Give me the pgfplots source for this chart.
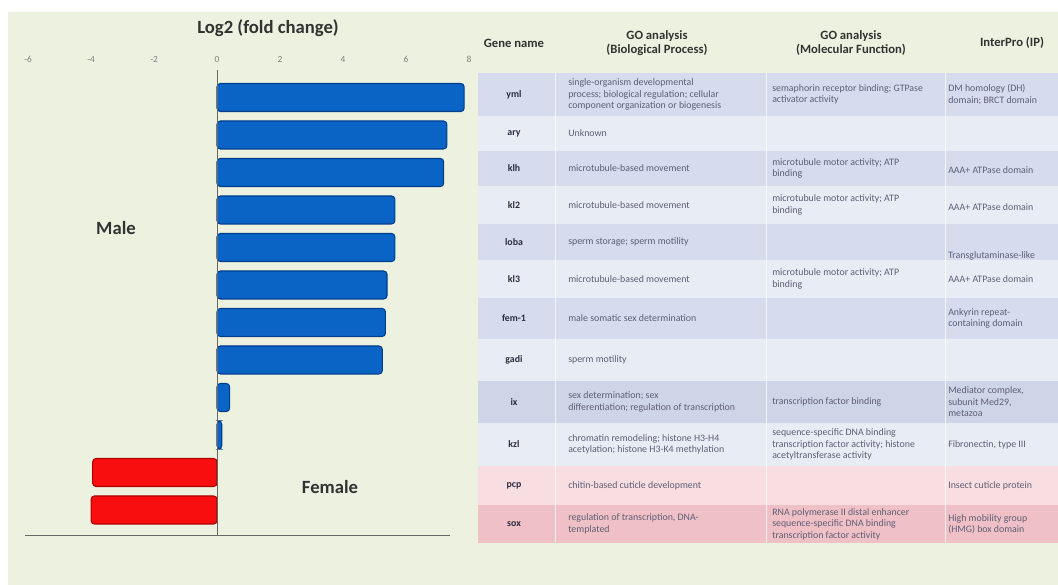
\documentclass[border=0pt]{standalone}
\usepackage{fontspec}
\setmainfont{Carlito}
\usepackage{pgfplots}
\pgfplotsset{compat=1.18}
\definecolor{bg}{RGB}{237,242,224}
\definecolor{barblue}{RGB}{10,100,198}
\definecolor{barblueedge}{RGB}{0,62,140}
\definecolor{barred}{RGB}{248,14,14}
\definecolor{barrededge}{RGB}{175,0,0}
\definecolor{rowA}{RGB}{214,219,237}
\definecolor{rowB}{RGB}{232,236,245}
\definecolor{rowC}{RGB}{206,213,231}
\definecolor{rowP}{RGB}{248,221,225}
\definecolor{rowQ}{RGB}{240,192,199}
\definecolor{txt}{RGB}{95,95,118}
\definecolor{gname}{RGB}{45,45,65}
\definecolor{hdr}{RGB}{50,50,50}
\begin{document}
\begin{tikzpicture}
\begin{scope}[x=0.75pt,y=-0.75pt]
\useasboundingbox (0,0) rectangle (1058,585);
\fill[white] (0,0) rectangle (1058,585);
\fill[bg] (8,12) rectangle (1058,585);
% table rows
\foreach \a/\b/\c in {73/116/rowA,116/151/rowB,151/186/rowA,186/224/rowB,224/260/rowA,260/298/rowB,298/339/rowA,339/381/rowB,381/423/rowC,423/466/rowB,466/505/rowP,505/543/rowQ}
  \fill[\c] (478,\a) rectangle (1058,\b);
\foreach \xx in {555,766,945}
  \draw[white,line width=0.6pt,opacity=0.7] (\xx,73) -- (\xx,543);
% headers
\begin{scope}[every node/.style={font=\fontsize{9.5}{11}\selectfont\bfseries, text=hdr, align=center}]
\node at (514,43) {Gene name};
\node at (657,43) {GO analysis\\(Biological Process)};
\node at (851,43) {GO analysis\\(Molecular Function)};
\node at (1012,43) {InterPro (IP)};
\end{scope}
% gene names
\begin{scope}[every node/.style={font=\fontsize{7.4}{8.6}\selectfont\bfseries, text=gname}]
\node at (514,94.5) {yml};
\node at (514,133.5) {ary};
\node at (514,168.5) {klh};
\node at (514,205) {kl2};
\node at (514,242) {loba};
\node at (514,279) {kl3};
\node at (514,318.5) {fem-1};
\node at (514,360) {gadi};
\node at (514,402) {ix};
\node at (514,444.5) {kzl};
\node at (514,485.5) {pcp};
\node at (514,524) {sox};
\end{scope}
% table text
\begin{scope}[every node/.style={font=\fontsize{7.4}{8.6}\selectfont, text=txt, align=left, anchor=west, inner sep=0pt}]
\node at (568,94.5) {single-organism developmental\\process; biological regulation; cellular\\component organization or biogenesis};
\node at (772,94.5) {semaphorin receptor binding; GTPase\\activator activity};
\node at (948,94.5) {DM homology (DH)\\domain; BRCT domain};
\node at (568,133.5) {Unknown};
\node at (568,168.5) {microtubule-based movement};
\node at (772,168.5) {microtubule motor activity; ATP\\binding};
\node at (948,170) {AAA+ ATPase domain};
\node at (568,205) {microtubule-based movement};
\node at (772,205) {microtubule motor activity; ATP\\binding};
\node at (948,207) {AAA+ ATPase domain};
\node at (568,242) {sperm storage; sperm motility};
\node at (948,256) {Transglutaminase-like};
\node at (568,279) {microtubule-based movement};
\node at (772,279) {microtubule motor activity; ATP\\binding};
\node at (948,279) {AAA+ ATPase domain};
\node at (568,318.5) {male somatic sex determination};
\node at (948,318.5) {Ankyrin repeat-\\containing domain};
\node at (568,360) {sperm motility};
\node at (568,402) {sex determination; sex\\differentiation; regulation of transcription};
\node at (772,402) {transcription factor binding};
\node at (948,402) {Mediator complex,\\subunit Med29,\\metazoa};
\node at (568,444.5) {chromatin remodeling; histone H3-H4\\acetylation; histone H3-K4 methylation};
\node at (772,444.5) {sequence-specific DNA binding\\transcription factor activity; histone\\acetyltransferase activity};
\node at (948,444.5) {Fibronectin, type III};
\node at (568,485.5) {chitin-based cuticle development};
\node at (948,485.5) {Insect cuticle protein};
\node at (568,524) {regulation of transcription, DNA-\\templated};
\node at (772,524) {RNA polymerase II distal enhancer\\sequence-specific DNA binding\\transcription factor activity};
\node at (948,524) {High mobility group\\(HMG) box domain};
\end{scope}
% chart labels
\node[font=\fontsize{14}{16}\selectfont\bfseries, text=hdr] at (268,28) {Log2 (fold change)};
\node[font=\fontsize{14}{16}\selectfont\bfseries, text=hdr] at (116,228) {Male};
\node[font=\fontsize{14}{16}\selectfont\bfseries, text=hdr] at (330,487) {Female};
\end{scope}
\begin{axis}[
  at={(18.75pt,-401.25pt)}, anchor=south west,
  scale only axis, width=335.25pt, height=348.75pt,
  xmin=-6.1, xmax=8.1, ymin=0.267, ymax=12.667,
  y dir=reverse,
  axis line style={draw=none},
  xtick={-6,-4,...,8}, ytick=\empty,
  xticklabel pos=upper,
  tick style={draw=none},
  xticklabel style={font=\fontsize{7}{8}\selectfont, text=gray, yshift=2pt},
  /pgf/number format/assume math mode=true,
  xbar, bar width=21pt,
  clip=false,
]
\addplot[xbar, bar shift=0pt, fill=barblue, draw=barblueedge, line width=0.8pt, rounded corners=2.5pt]
  coordinates {(7.85,1) (7.3,2) (7.2,3) (5.65,4) (5.65,5) (5.4,6) (5.35,7) (5.25,8) (0.4,9) (0.15,10)};
\addplot[xbar, bar shift=0pt, fill=barred, draw=barrededge, line width=0.8pt, rounded corners=2.5pt]
  coordinates {(-3.95,11) (-4.0,12)};
\draw[gray!80!black, line width=0.6pt] (axis cs:0,0.267) -- (axis cs:0,12.667);
\draw[gray!80!black, line width=0.6pt] (axis cs:-6.1,12.667) -- (axis cs:7.4,12.667);
\end{axis}
\end{tikzpicture}
\end{document}
